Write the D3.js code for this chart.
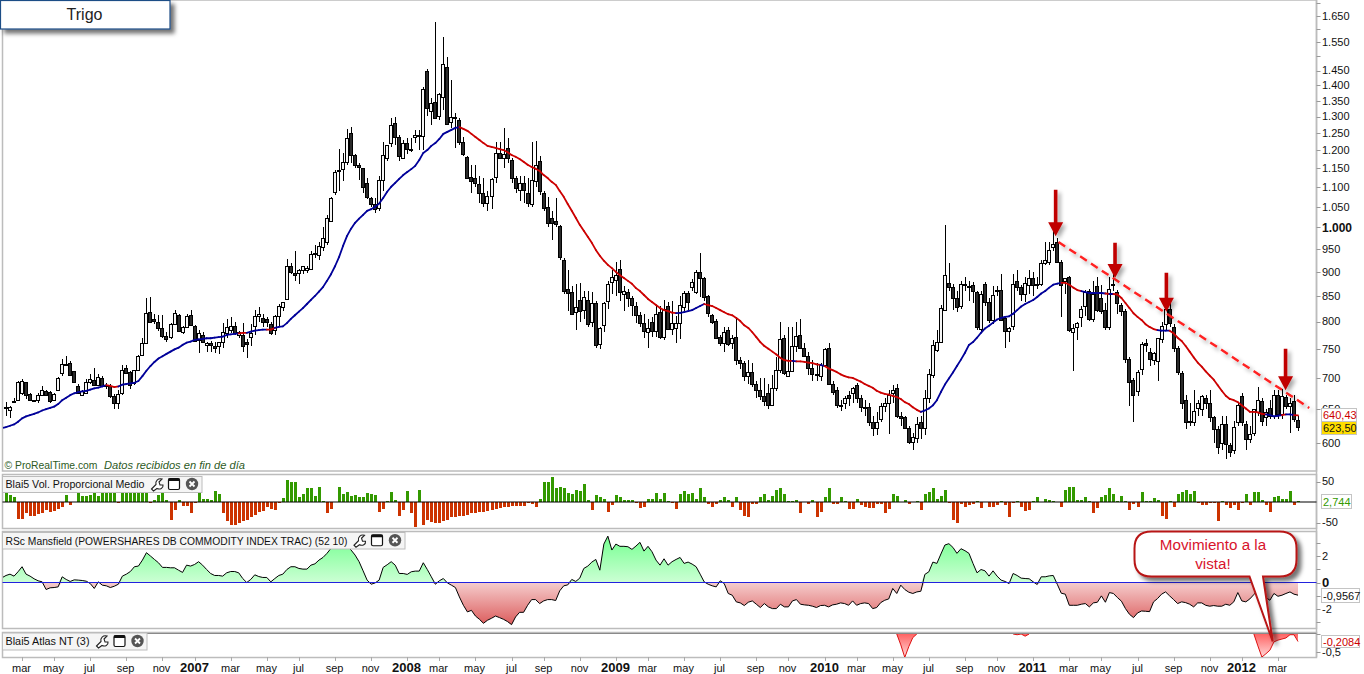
<!DOCTYPE html>
<html><head><meta charset="utf-8"><title>Trigo</title>
<script src="https://cdn.jsdelivr.net/npm/d3@7/dist/d3.min.js"></script>
<style>html,body{margin:0;padding:0;background:#fff;overflow:hidden}svg{display:block}text{font-family:"Liberation Sans",Arial,sans-serif}</style>
</head><body><svg id="c" width="1364" height="674"></svg>
<script>
const chartTitle = "Trigo";
// weekly candles [open, high, low, close]
const candles2006 = [[654,661,640,652],[649,655,636,654],[663,668,660,661],[664,695,662,693],[676,698,672,695],[693,694,666,673],[674,675,663,664],[664,665,662,663],[664,675,660,672],[672,687,670,681],[678,680,671,672],[677,679,659,662],[664,675,662,674],[680,702,678,700],[708,732,704,724],[723,738,720,722],[726,728,704,705],[711,712,692,694],[686,690,674,675],[672,680,670,679],[676,698,674,694],[694,706,690,699],[697,716,686,689],[689,706,687,701],[700,703,685,687],[686,692,682,689],[687,690,668,671],[671,674,650,660],[660,680,650,674],[675,722,673,714],[716,722,706,708],[710,712,682,689],[691,714,688,713],[714,739,712,738],[739,770,737,760],[761,845,759,817],[819,848,798,800],[804,815,795,802],[800,812,782,788],[788,812,770,773],[773,780,762,767],[771,797,768,795],[795,822,793,817],[812,815,780,782],[781,792,777,789],[789,814,787,811],[812,822,792,794]];
const candles2007 = [[792,793,762,764],[765,785,742,779],[775,780,760,763],[757,762,745,760],[760,764,745,756],[755,762,742,752],[755,763,741,762],[762,797,752,781],[779,805,770,789],[785,808,778,792],[791,800,775,779],[775,783,770,781],[775,798,745,755],[762,768,734,759],[772,796,755,779],[791,822,775,811],[811,828,800,815],[806,815,790,799],[804,808,790,799],[795,800,775,778],[784,812,775,810],[811,834,790,830],[828,838,820,838],[843,927,841,912],[912,920,895,899],[898,945,880,893],[897,906,875,904],[905,913,895,912],[904,912,898,908],[907,945,905,938],[942,960,930,938],[936,965,925,957],[955,1000,945,975],[965,1030,960,1023],[1016,1075,1012,1072],[1088,1146,1080,1140],[1146,1204,1090,1143],[1148,1192,1115,1168],[1168,1262,1160,1236],[1250,1268,1165,1186],[1186,1190,1150,1160],[1160,1165,1120,1154],[1150,1152,1085,1100],[1110,1125,1070,1074],[1072,1075,1050,1056],[1056,1072,1035,1044],[1048,1130,1040,1119],[1119,1225,1090,1186],[1180,1215,1170,1215],[1222,1295,1210,1275],[1280,1300,1215,1240],[1240,1245,1170,1183],[1180,1230,1175,1222]];
const candles2008 = [[1221,1235,1190,1204],[1204,1235,1195,1202],[1240,1260,1220,1245],[1245,1260,1201,1243],[1242,1395,1200,1388],[1450,1455,1302,1327],[1318,1360,1275,1343],[1347,1628,1296,1296],[1303,1375,1290,1370],[1362,1570,1320,1472],[1463,1497,1275,1278],[1285,1418,1265,1300],[1298,1310,1207,1296],[1290,1295,1215,1225],[1225,1240,1185,1190],[1181,1183,1121,1123],[1127,1160,1085,1117],[1125,1160,1100,1112],[1109,1130,1060,1085],[1085,1125,1050,1060],[1060,1090,1040,1077],[1076,1125,1045,1122],[1128,1224,1110,1193],[1193,1225,1175,1180],[1178,1266,1150,1190],[1207,1235,1165,1180],[1172,1180,1110,1125],[1125,1130,1085,1097],[1093,1130,1065,1110],[1112,1130,1060,1092],[1085,1125,1050,1060],[1056,1225,1050,1118],[1115,1228,1100,1160],[1170,1183,1080,1090],[1085,1090,1040,1048],[1050,1075,1000,1010],[1022,1040,970,1010],[1015,1072,1000,1008],[1003,1005,925,933],[926,930,855,860],[864,904,820,856],[858,870,815,815],[818,875,785,828],[842,877,800,820],[822,860,805,848],[842,860,790,795],[799,858,790,835],[835,840,752,756],[758,790,750,788],[793,838,780,835],[840,880,825,875],[878,905,855,890]];
const candles2009 = [[883,922,850,893],[906,926,840,858],[855,870,820,860],[858,865,828,845],[845,850,810,832],[830,838,798,812],[812,818,790,797],[797,815,770,782],[780,805,752,788],[800,808,772,782],[782,830,772,815],[818,830,768,771],[772,842,765,825],[830,838,784,786],[786,840,775,797],[787,810,760,797],[797,850,768,833],[828,860,820,856],[856,860,822,838],[868,885,860,878],[858,905,855,900],[900,942,848,888],[888,890,840,848],[849,851,808,816],[812,815,795,800],[802,805,770,770],[771,775,755,760],[761,790,745,780],[785,790,755,758],[760,775,750,770],[772,808,722,730],[730,735,715,725],[725,728,695,703],[703,730,690,710],[710,725,685,690],[690,695,668,681],[681,700,665,671],[670,700,655,663],[676,690,650,656],[656,705,655,683],[684,735,678,713],[713,800,708,768],[770,775,705,708],[704,790,702,712],[712,790,710,755],[755,800,745,773],[775,805,750,752],[752,760,735,738],[738,745,705,717],[717,730,695,706],[707,725,695,705],[704,725,695,722]];
const candles2010 = [[722,752,718,750],[752,760,688,690],[690,695,672,677],[680,685,652,656],[657,665,648,655],[659,670,650,667],[672,678,655,668],[675,685,660,684],[688,692,660,668],[667,672,645,653],[654,665,640,652],[653,660,625,630],[630,640,610,621],[622,645,612,630],[635,660,630,655],[655,668,645,660],[660,680,613,673],[675,688,660,680],[683,690,637,640],[639,645,625,637],[638,640,620,622],[622,625,598,602],[602,615,590,608],[607,638,600,628],[630,640,605,622],[622,680,612,668],[668,715,660,707],[705,765,700,757],[748,785,745,763],[763,832,760,826],[823,1005,820,893],[877,920,860,868],[868,875,822,845],[845,860,818,828],[830,880,825,875],[875,890,860,872],[870,880,840,868],[872,878,835,860],[858,860,785,790],[786,860,780,855],[875,878,830,838],[838,845,798,803],[803,870,795,852],[860,870,850,862],[862,895,802,803],[806,810,752,782],[782,790,762,787],[792,895,785,875],[881,905,860,868],[868,872,840,853],[853,890,838,877],[872,903,855,888]];
const candles2011 = [[888,900,850,872],[872,890,865,875],[875,925,870,920],[920,965,915,925],[922,965,915,948],[955,1000,945,962],[966,975,920,922],[922,925,808,872],[880,888,855,886],[890,892,780,785],[780,795,712,788],[790,800,765,798],[808,830,790,825],[830,862,810,858],[860,865,802,805],[805,880,800,855],[870,890,818,822],[845,872,815,820],[822,835,785,790],[790,890,785,865],[875,895,860,872],[858,862,815,835],[832,836,810,820],[820,825,725,732],[732,735,655,693],[697,700,630,672],[678,714,670,710],[715,763,705,758],[760,768,745,756],[745,752,720,732],[730,745,722,742],[728,770,695,770],[768,800,760,792],[795,830,785,825],[825,835,790,798],[790,795,745,752],[752,755,705,710],[708,712,650,660],[665,672,620,630],[630,660,625,632],[630,680,625,648],[652,665,640,660],[650,672,640,670],[668,672,650,660],[660,680,630,638],[638,640,600,620],[620,625,585,595],[600,640,590,628],[628,640,578,598],[597,600,580,588],[590,632,585,623],[630,660,625,656]];
const candles2012 = [[670,675,625,630],[628,632,590,606],[606,625,600,613],[615,650,610,650],[645,685,640,665],[663,668,625,632],[638,650,625,645],[652,665,635,640],[640,680,635,672],[672,680,635,642],[642,682,635,670],[669,672,650,655],[655,668,615,660],[663,672,630,635],[634,640,618,623.5]];

const movingAverage = [623,625,627,631,636,639,641,643,645,648,650,652,654,658,664,668,672,675,677,678,679,681,683,684,686,688,687,685,686,689,690,691,692,695,703,712,720,727,733,737,741,745,749,752,757,761,763,766,767,768,769,769,770,771,772,775,776,777,778,779,779,781,783,784,785,785,785,788,790,791,797,805,812,819,826,834,842,850,859,868,881,895,912,932,957,980,997,1011,1021,1030,1040,1044,1050,1058,1072,1088,1101,1111,1122,1132,1140,1148,1157,1173,1193,1201,1213,1221,1233,1248,1254,1260,1266,1268,1263,1257,1248,1239,1230,1221,1213,1210,1207,1204,1201,1195,1187,1182,1176,1168,1160,1154,1149,1143,1132,1124,1114,1106,1090,1075,1057,1040,1023,1006,992,978,964,948,935,924,915,908,900,893,887,881,875,866,860,852,844,838,832,826,822,820,817,816,816.5,818,820,822,826,830,834,832,830,826,822,818,814,812,807,801,793,788,780,771,762,755,750,745,740,734,730,729,729,728,728,727,726,725,723,722,720,716,713,710,706,703,701,700,697,694,690,687,684,679,676,674,673,671,669,666,661,658,653,649,646,648,651,656,664,677,689,699,709,720,731,743,757,762,770,779,787,792,798,804,807,809,810,815,822,829,834,838,842,848,855,860,867,873,875,877,877,873,867,862,860,858,856,856,856,856,855,854,854,853,846,836,826,816,809,803,795,790,786,784,783,783,783,778,770,764,755,745,735,726,719,711,704,697,688,679,671,666,664,661,656,651,646,646,645,643,642,641,639,640,641,642,642,641,640.43];
const maLeadValue = 622;
// week ranges in which the moving average is drawn red (falling)
const maFallingRanges = [[25,28],[58,60],[65,67],[113,167],[174,196],[197,203],[204,228],[263,268],[274,275],[276,287],[290,314],[318,319],[321,322]];

const volumeHist = [24,18,12,-41,-41,-28,-35,-35,-30,-28,-20,-25,-22,-17,-11,18,-7,0,24,15,15,18,24,14,24,24,24,24,-3,24,24,24,24,24,24,24,-3,4,18,24,6,-43,-19,6,-9,-9,-28,-2,24,8,8,4,28,19,-28,-47,-57,-55,-51,-46,-43,-37,-31,-24,-23,-13,-17,-20,-2,10,54,50,48,11,20,35,33,15,37,3,-28,-16,0,37,20,25,15,18,13,13,23,20,18,-24,-16,3,25,6,-33,-19,28,-26,-60,30,-55,-43,-48,-50,-50,-46,-43,-37,-36,-35,-33,-31,-28,-27,-25,-24,-23,-20,-18,-15,-11,-11,-9,-9,-9,-9,-3,-6,-11,8,50,50,62,33,37,35,23,20,30,28,45,6,-20,18,13,8,-24,-8,18,13,6,6,6,-3,-15,-13,8,8,23,8,23,3,-3,-18,20,28,20,23,8,35,13,-6,-13,-6,6,11,6,-11,11,-20,-33,-36,-6,-6,11,20,6,15,30,33,20,3,3,6,-28,0,-6,6,-36,-24,11,33,-6,-6,13,3,-18,-18,8,-8,-13,-15,-15,-6,-6,-26,-18,20,15,0,6,-6,0,3,-20,20,25,35,8,15,30,-2,-43,-50,-6,-13,-8,-4,3,-15,0,-13,-11,-8,3,-8,-36,-2,3,-13,-23,-20,3,13,0,8,6,3,0,-13,30,37,37,6,6,11,3,-28,-15,11,18,35,20,3,15,3,-20,-6,-11,25,3,3,10,6,-33,-41,3,-11,20,25,30,20,28,-2,-7,-7,-2,-2,-46,3,-7,-15,-7,-20,-2,20,-8,25,25,6,-8,-24,13,15,8,8,28,-8,2.744];

const rsMansfield = [.53,.63,.48,.81,1.19,.63,.48,.28,.13,.05,-.53,-.40,-.38,-.33,.43,.23,.08,.20,.18,.15,.10,-.08,-.45,.05,-.20,-.25,-.38,-.28,-.13,.48,.63,.83,1.19,1.24,1.69,2.25,2.0,1.74,1.49,1.14,1.14,1.11,1.11,.93,.76,1.31,1.24,1.36,1.57,1.31,.98,.68,.53,.53,.48,.73,.83,.83,.73,.30,0,.23,.58,.45,.38,.38,.05,.30,.53,.63,.98,1.19,1.19,1.06,1.01,1.01,1.31,1.41,1.69,1.89,2.2,2.58,2.83,2.9,2.9,2.75,2.45,2.07,1.57,.88,.18,-.13,-.03,.18,1.14,1.34,1.57,1.31,.68,.68,.61,.81,.86,.86,1.49,.98,.43,-.13,.13,.30,-.03,-.20,-.38,-1.09,-1.72,-2.22,-2.1,-2.53,-2.78,-3.08,-2.85,-2.7,-2.53,-2.65,-2.78,-2.95,-3.18,-2.6,-2.25,-2.25,-1.72,-1.29,-1.29,-1.59,-1.39,-1.29,-1.29,-1.36,-.63,-.25,-.18,.23,.08,.33,1.06,1.24,1.54,1.74,.93,2.9,3.5,2.45,2.9,2.73,2.73,2.7,2.5,2.75,3.03,2.37,2.73,2.32,1.69,1.31,1.79,1.31,1.57,1.74,1.89,1.44,1.54,1.39,1.19,.63,.05,-.13,-.25,-.33,.13,-.08,-.83,-.96,-1.46,-1.54,-1.74,-1.49,-1.39,-1.64,-1.89,-1.59,-1.84,-1.97,-1.97,-1.64,-1.84,-1.84,-1.39,-1.29,-1.64,-1.69,-1.72,-1.79,-1.89,-1.74,-1.72,-1.84,-1.69,-1.64,-1.54,-1.59,-1.72,-1.39,-1.72,-1.59,-1.54,-1.59,-1.97,-1.89,-1.52,-1.34,-1.24,-.45,-.83,-.20,-.53,-.73,-.83,-.71,-.66,.61,.81,1.54,1.44,2.15,2.83,2.93,2.65,2.2,2.55,2.4,2.2,1.44,.73,.98,.88,.48,.88,.48,.18,.08,-.08,.68,.53,.33,.30,.28,.05,-.15,.43,.43,.5,.53,-.13,-.81,-.88,-1.72,-1.72,-1.72,-1.64,-1.59,-1.84,-1.54,-1.49,-1.01,-1.49,-.76,-.83,-1.14,-1.41,-1.97,-2.4,-2.65,-2.3,-2.15,-2.17,-2.2,-1.46,-1.21,-.88,-.71,-1.01,-1.29,-1.59,-1.46,-1.52,-1.64,-1.84,-1.54,-1.54,-1.72,-1.79,-1.74,-1.79,-1.79,-1.64,-1.72,-1.46,-.76,-1.39,-1.46,-1.24,-.91,-.58,-.71,-1.14,-1.34,-.83,-1.04,-.96,-.83,-.71,-.88,-.9567];
const rsLeadValue = .4;

const atlasWeeks =  [222,223,224,225,226,227,null,251,252,253,null,253,254,255,null,311,312,313,314,315,316,317,318,319,320,321,322];
const atlasValues = [0,-.3,-.65,-.35,-.1,0,null,0,-.02,0,null,0,-.06,0,null,0,-.33,-.64,-.55,-.45,-.22,-.17,-.14,-.11,-.02,-.02,-.2084];

const priceTicks = [1650,1550,1450,1400,1350,1300,1250,1200,1150,1100,1050,1000,950,900,850,800,750,700,650,600];
const priceMinorTicks = [1700,1600,1500];
const volumeTicks = [50,-50];
const rsTicks = [2,0,-2];
const rsMinorTicks = [3,1,-1,-3];
const atlasTickValue = -.5;
const timeLabels = ["mar","may","jul","sep","nov","2007","mar","may","jul","sep","nov","2008","mar","may","jul","sep","nov","2009","mar","may","jul","sep","nov","2010","mar","may","jul","sep","nov","2011","mar","may","jul","sep","nov","2012","mar"];
const timeWeeks = [4,12,21,30,39,47,56,65,73,82,91,100,108,117,126,134,143,152,160,169,178,187,195,204,212,221,230,239,247,256,265,273,282,291,300,308,317];

// annotations: red arrows [week, tip price, tail price], dashed resistance [week, price]
const arrowWeeks = [261.6,276.4,289.2,318.9];
const arrowTipPrices = [979,887,819,680];
const arrowTailPrices = [1093,964,898,750];
const trendStart = [262.3,966];
const trendEnd = [324.8,652];
const calloutLines = ["Movimiento a la","vista!"];
const lastPrice = "623,50", lastMa = "640,43", lastVolume = "2,744", lastRs = "-0,9567", lastAtlas = "-0,2084";

const candles = [...candles2006,...candles2007,...candles2008,...candles2009,...candles2010,...candles2011,...candles2012];
const svg = d3.select("#c");
const AXIS = 1316.5, LEFT = 2.5;
const x = d3.scaleLinear().domain([0,322]).range([6,1298]);
const yP = d3.scaleLog().domain([600,1650]).range([443,16]);
const yV = d3.scaleLinear().domain([-50,50]).range([522.5,481.5]);
const yR = d3.scaleLinear().domain([-2,2]).range([609,556]);
const yA = d3.scaleLinear().domain([-.5,0]).range([652,634]);
const LEAD_WEEK = -0.75;

const defs = svg.append("defs");
function grad(id,y1,y2,c1,c2){const g=defs.append("linearGradient").attr("id",id).attr("gradientUnits","userSpaceOnUse").attr("x1",0).attr("x2",0).attr("y1",y1).attr("y2",y2);g.append("stop").attr("offset",0).attr("stop-color",c1);g.append("stop").attr("offset",1).attr("stop-color",c2);}
grad("gUp",yR(3.1),yR(0),"#7fff98","#ccffd4");
grad("gDn",yR(0),yR(-3.2),"#f5cdcd","#dc5c5c");
grad("gAtlas",yA(0),yA(-.65),"#ff6464","#ffd9d9");
function shadow(id,dx,dy,sd,op){const f=defs.append("filter").attr("id",id).attr("x","-30%").attr("y","-30%").attr("width","170%").attr("height","170%");f.append("feDropShadow").attr("dx",dx).attr("dy",dy).attr("stdDeviation",sd).attr("flood-color","#000").attr("flood-opacity",op);}
shadow("sBox",4,4,2,.55); shadow("sSoft",3,3,2,.35);
[["clipMain",0,1314,471],["clipVol",475,1314,53],["clipRs",532,1314,96],["clipAtlas",634,1314,23]].forEach(([id,y,w,h])=>defs.append("clipPath").attr("id",id).append("rect").attr("x",LEFT).attr("y",y).attr("width",w).attr("height",h));

// panel frames
const frame = svg.append("g").attr("fill","none").attr("stroke","#bcbcbc").attr("stroke-width",1.5);
[[0,471],[474.5,528.5],[531.5,628.5],[632.5,657.5]].forEach(([a,b])=>frame.append("rect").attr("x",LEFT).attr("y",a).attr("width",AXIS-LEFT).attr("height",b-a));
svg.append("line").attr("x1",AXIS).attr("x2",AXIS).attr("y1",0).attr("y2",657).attr("stroke","#bcbcbc").attr("stroke-width",1.5);
svg.append("line").attr("x1",LEFT).attr("x2",AXIS).attr("y1",633.5).attr("y2",633.5).attr("stroke","#8a8a8a").attr("stroke-width",1.2);

// candles
const main = svg.append("g").attr("clip-path","url(#clipMain)");
const cg = main.selectAll("g.k").data(candles).join("g").attr("class","k").attr("shape-rendering","crispEdges");
const px = i => Math.round(x(i));
cg.append("line").attr("x1",(d,i)=>px(i)+.5).attr("x2",(d,i)=>px(i)+.5).attr("y1",d=>yP(d[1])).attr("y2",d=>yP(d[2])).attr("stroke","#000");
cg.append("rect").attr("x",(d,i)=>px(i)-1.5).attr("width",3)
  .attr("y",d=>Math.round(yP(Math.max(d[0],d[3])))+.5)
  .attr("height",d=>Math.max(1,Math.round(yP(Math.min(d[0],d[3])))-Math.round(yP(Math.max(d[0],d[3])))))
  .attr("fill",d=>d[3]>=d[0]?"#f6f6f6":"#2a2a2a").attr("stroke","#000");

// moving average, coloured by direction
const falling = i => maFallingRanges.some(r=>i>=r[0]&&i<r[1]);
const maLine = d3.line().x(d=>x(d[0])).y(d=>yP(d[1]));
main.append("path").attr("d",maLine([[LEAD_WEEK,maLeadValue],[0,movingAverage[0]]])).attr("fill","none").attr("stroke","#000099").attr("stroke-width",1.8);
movingAverage.slice(1).forEach((v,k)=>{
  main.append("path").attr("d",maLine([[k,movingAverage[k]],[k+1,v]])).attr("fill","none")
    .attr("stroke",falling(k)?"#cc0000":"#000099").attr("stroke-width",1.8).attr("stroke-linecap","round");
});

// price axis
const tick=(y,len=4,color="#999")=>svg.append("line").attr("x1",AXIS).attr("x2",AXIS+len).attr("y1",Math.round(y)+.5).attr("y2",Math.round(y)+.5).attr("stroke",color);
priceMinorTicks.forEach(v=>tick(yP(v)));
const label=(t,xx,y,opt={})=>svg.append("text").attr("x",xx).attr("y",y).attr("dy","0.35em").attr("font-size",opt.size||11).attr("font-weight",opt.bold?"bold":"normal").attr("fill",opt.color||"#111").attr("text-anchor",opt.anchor||"start").text(t);
const fmt=d3.format(",");
priceTicks.forEach(v=>{tick(yP(v));label(fmt(v).replace(",","."),1322,yP(v),{bold:v===1000,size:v===1000?12:11});});

// volume histogram
const vol = svg.append("g").attr("clip-path","url(#clipVol)");
vol.selectAll("rect").data(volumeHist).join("rect").attr("shape-rendering","crispEdges")
  .attr("x",(d,i)=>px(i)-1).attr("width",3)
  .attr("y",d=>Math.min(yV(d),yV(0))).attr("height",d=>Math.abs(yV(d)-yV(0)))
  .attr("fill",d=>d>=0?"#339900":"#cc3300");
svg.append("line").attr("x1",LEFT).attr("x2",AXIS).attr("y1",yV(0)).attr("y2",yV(0)).attr("stroke","#000").attr("stroke-width",1.2);
volumeTicks.forEach(v=>{tick(yV(v));label(String(v),1322,yV(v));});

// RS Mansfield
const rs = svg.append("g").attr("clip-path","url(#clipRs)");
const rsPts = [[LEAD_WEEK,rsLeadValue],...rsMansfield.map((v,i)=>[i,v])];
const areaUp=d3.area().x(d=>x(d[0])).y0(yR(0)).y1(d=>yR(Math.max(d[1],0)));
const areaDn=d3.area().x(d=>x(d[0])).y0(yR(0)).y1(d=>yR(Math.min(d[1],0)));
rs.append("path").attr("d",areaUp(rsPts)).attr("fill","url(#gUp)");
rs.append("path").attr("d",areaDn(rsPts)).attr("fill","url(#gDn)");
rs.append("path").attr("d",d3.line().x(d=>x(d[0])).y(d=>yR(d[1]))(rsPts)).attr("fill","none").attr("stroke","#000").attr("stroke-width",1);
svg.append("line").attr("x1",LEFT).attr("x2",AXIS).attr("y1",yR(0)).attr("y2",yR(0)).attr("stroke","#2222dd").attr("stroke-width",1.2);
rsMinorTicks.forEach(v=>tick(yR(v)));
rsTicks.forEach(v=>{tick(yR(v));label(v===0?"0":String(v),1322,yR(v),{bold:v===0,size:v===0?13:11});});

// Atlas
const at = svg.append("g").attr("clip-path","url(#clipAtlas)");
const atlasPts = atlasWeeks.map((w,k)=>[w,atlasValues[k]]);
const def=d=>d[0]!==null;
at.append("path").attr("d",d3.area().defined(def).x(d=>x(d[0])).y0(yA(0)).y1(d=>yA(d[1]))(atlasPts)).attr("fill","url(#gAtlas)");
at.append("path").attr("d",d3.line().defined(def).x(d=>x(d[0])).y(d=>yA(d[1]))(atlasPts)).attr("fill","none").attr("stroke","#dd1111").attr("stroke-width",1);
tick(yA(atlasTickValue)); tick(yA(0));
label("-0,5",1322,yA(atlasTickValue));

// time axis
timeLabels.forEach((t,k)=>{
  const xx=px(timeWeeks[k])+.5, yr=/^\d/.test(t);
  svg.append("line").attr("x1",xx).attr("x2",xx).attr("y1",657).attr("y2",661).attr("stroke","#aaa").attr("shape-rendering","crispEdges");
  svg.append("text").attr("x",xx-1).attr("y",672).attr("text-anchor","middle").attr("font-size",yr?13:11).attr("font-weight",yr?"bold":"normal").attr("fill","#111").text(t);
});

// value boxes
function box(xx,y,w,h,t,color,bg){
  svg.append("rect").attr("x",xx).attr("y",y).attr("width",w).attr("height",h).attr("fill",bg||"#fff").attr("stroke","#c4c4c4").attr("stroke-width",1);
  label(t,xx+1.5,y+h/2+.5,{color,size:11});
}
box(1321.5,408.5,35,13,lastMa,"#cc0000");
box(1321.5,421.5,35,13,lastPrice,"#111","#ffdd00");
box(1321.5,494.5,30,14,lastVolume,"#339900");
box(1321.5,588.5,38,14,lastRs,"#111");
box(1321.5,635.5,38,12,lastAtlas,"#cc0000");

// indicator captions
function icons(xs,yc){
  const w=svg.append("g").attr("transform",`translate(${xs[0]},${yc})`);
  w.append("path").attr("d","M-5.5,5 L-1,0.5 C-2,-3 1,-6 5,-5 L2,-2 L3,1 L6,1 C6.5,4 3,6 0,4.5 L-3.5,7 Z").attr("fill","#fff").attr("stroke","#222").attr("stroke-width",1.1);
  const g=svg.append("g").attr("transform",`translate(${xs[1]},${yc})`);
  g.append("rect").attr("x",-5.5).attr("y",-5.5).attr("width",11).attr("height",11).attr("rx",1.5).attr("fill","#fff").attr("stroke","#111").attr("stroke-width",1.2);
  g.append("rect").attr("x",-5.5).attr("y",-5.5).attr("width",11).attr("height",2.5).attr("fill","#111");
  const c=svg.append("g").attr("transform",`translate(${xs[2]},${yc})`);
  c.append("circle").attr("r",6.2).attr("fill","#555");
  c.append("path").attr("d","M-2.5,-2.5L2.5,2.5M2.5,-2.5L-2.5,2.5").attr("stroke","#fff").attr("stroke-width",1.8);
}
function caption(t,w,y,h,xs,tw){
  svg.append("rect").attr("x",LEFT).attr("y",y).attr("width",w).attr("height",h).attr("fill","#f5f5f5").attr("stroke","#bcbcbc");
  svg.append("text").attr("x",5.5).attr("y",y+h/2).attr("dy","0.35em").attr("font-size",11).attr("fill","#111").attr("textLength",tw).attr("lengthAdjust","spacingAndGlyphs").text(t);
  icons(xs,y+h/2-.5);
}
caption("Blai5 Vol. Proporcional Medio",199.5,476.5,16,[157,174,192],139);
caption("RSc Mansfield (POWERSHARES DB COMMODITY INDEX TRAC) (52 10)",402.5,532.5,16.5,[359.5,377,395],342);
caption("Blai5 Atlas NT (3)",144.5,633,17,[102,119.5,137.5],84);

// watermark
svg.append("text").attr("x",4.5).attr("y",469).attr("font-size",11).attr("fill","#2d5a1e").attr("textLength",93).attr("lengthAdjust","spacingAndGlyphs").text("© ProRealTime.com");
svg.append("text").attr("x",104).attr("y",469).attr("font-size",11).attr("font-style","italic").attr("fill","#2d5a1e").attr("textLength",141).attr("lengthAdjust","spacingAndGlyphs").text("Datos recibidos en fin de día");

// resistance line + arrows
const ann=svg.append("g");
ann.append("line").attr("x1",x(trendStart[0])).attr("y1",yP(trendStart[1])).attr("x2",x(trendEnd[0])).attr("y2",yP(trendEnd[1]))
  .attr("stroke","#ff2020").attr("stroke-width",2.4).attr("stroke-dasharray","8 5").attr("filter","url(#sSoft)");
arrowWeeks.forEach((w,k)=>{
  const ax=x(w),tip=yP(arrowTipPrices[k]),tail=yP(arrowTailPrices[k]);
  ann.append("path").attr("d",`M${ax-1.8},${tail}H${ax+1.8}V${tip-14}H${ax+7.5}L${ax},${tip}L${ax-7.5},${tip-14}H${ax-1.8}Z`).attr("fill","#c00000").attr("filter","url(#sSoft)");
});

// callout
const L=1134.5,R=1296.5,T=531.5,B=576.5,r=17;
const tipX=x(315.7),tipY=yA(-.2084),b1=1249.5,b2=1263;
svg.append("path").attr("d",`M${L+r},${T}H${R-r}Q${R},${T} ${R},${T+r}V${B-r}Q${R},${B} ${R-r},${B}H${b2}L${tipX},${tipY}L${b1},${B}H${L+r}Q${L},${B} ${L},${B-r}V${T+r}Q${L},${T} ${L+r},${T}Z`)
  .attr("fill","#fff").attr("stroke","#b81414").attr("stroke-width",2).attr("filter","url(#sBox)");
calloutLines.forEach((t,k)=>svg.append("text").attr("x",1213).attr("y",550+k*18.5).attr("text-anchor","middle").attr("font-size",15.2).attr("fill","#d8142c").text(t));

// title
svg.append("rect").attr("x",0.5).attr("y",0.5).attr("width",169.5).attr("height",28.5).attr("fill","#fff").attr("stroke","#1f4e86").attr("stroke-width",1.2).attr("filter","url(#sBox)");
svg.append("text").attr("x",84.5).attr("y",20).attr("text-anchor","middle").attr("font-size",16).attr("fill","#222").text(chartTitle);
</script></body></html>
